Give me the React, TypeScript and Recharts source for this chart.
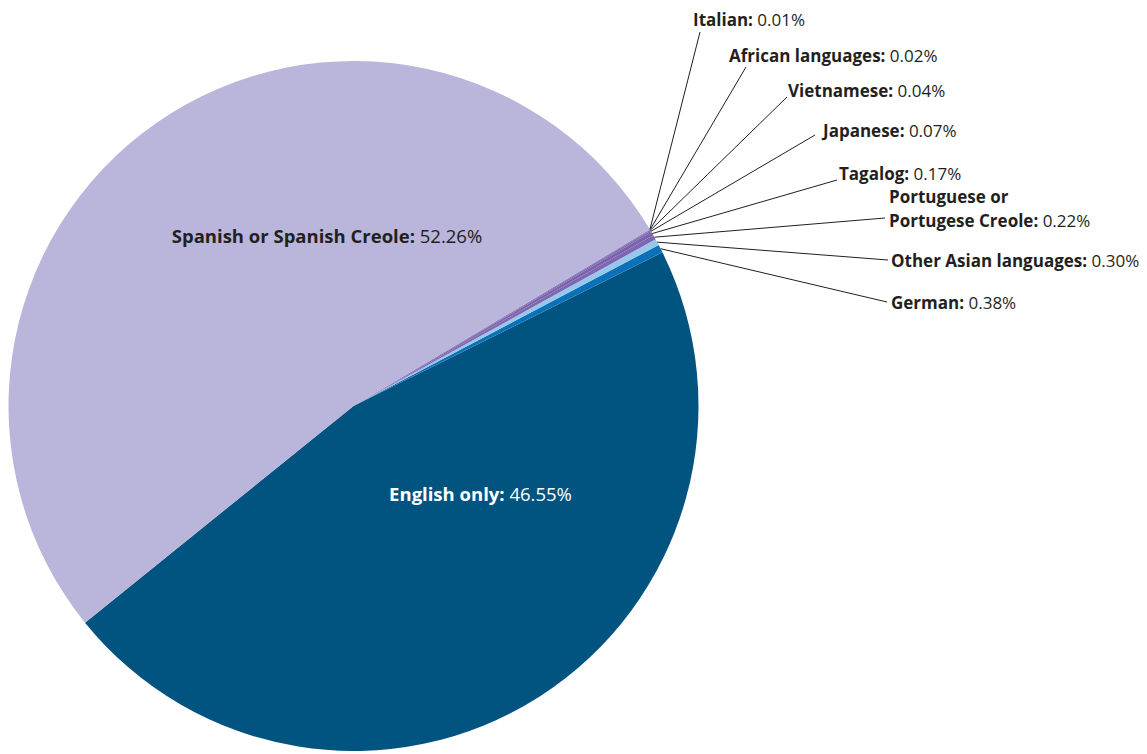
import React from "react";
import { PieChart, Pie, Cell } from "recharts";

const categories = [
  "English only",
  "German",
  "Other Asian languages",
  "Portuguese or Portugese Creole",
  "Tagalog",
  "Japanese",
  "Vietnamese",
  "African languages",
  "Italian",
  "Spanish or Spanish Creole",
];
const shares = [46.55, 0.38, 0.3, 0.22, 0.17, 0.07, 0.04, 0.02, 0.01, 52.26];
const valueLabels = ["46.55%", "0.38%", "0.30%", "0.22%", "0.17%", "0.07%", "0.04%", "0.02%", "0.01%", "52.26%"];
const labelLines: string[][] = [
  ["English only:"],
  ["German:"],
  ["Other Asian languages:"],
  ["Portuguese or", "Portugese Creole:"],
  ["Tagalog:"],
  ["Japanese:"],
  ["Vietnamese:"],
  ["African languages:"],
  ["Italian:"],
  ["Spanish or Spanish Creole:"],
];
const colors = ["#00547f", "#0b72ba", "#97c8ec", "#7e66b0", "#7a62ad", "#7a62ad", "#7a62ad", "#7a62ad", "#7a62ad", "#b9b5db"];

const data = categories.map((name, i) => ({ name, value: shares[i] }));

// Label layout (offsets from pie centre, px). "inside" labels have no leader line.
type Lay = { tx: number; ty: number; lx?: number; ly?: number; inside?: boolean; anchor?: "start" | "middle" };
const layout: Lay[] = [
  { tx: 127, ty: 87, inside: true, anchor: "middle" },
  { tx: 537.5, ty: -104, lx: 533.5, ly: -104 },
  { tx: 537.5, ty: -146, lx: 534.5, ly: -146 },
  { tx: 535.5, ty: -198, lx: 531.5, ly: -188 },
  { tx: 485.5, ty: -233, lx: 483.5, ly: -226 },
  { tx: 469.5, ty: -276, lx: 461.5, ly: -271 },
  { tx: 434.5, ty: -316, lx: 433.5, ly: -309 },
  { tx: 375.5, ty: -351, lx: 392.5, ly: -339 },
  { tx: 339.5, ty: -387, lx: 346.5, ly: -374 },
  { tx: -26.5, ty: -171, inside: true, anchor: "middle" },
];

const FONT = "'Open Sans', sans-serif";
const RAD = Math.PI / 180;

const renderLabel = (props: any) => {
  const { cx, cy, midAngle, outerRadius, index } = props;
  const lay = layout[index];
  const lines = labelLines[index];
  const fill = index === 0 ? "#ffffff" : "#231f20";
  const tx = cx + lay.tx;
  const ty = cy + lay.ty;
  const lineH = 23.5;
  const fs = lay.inside ? 18.5 : 17;
  const y0 = ty - ((lines.length - 1) * lineH) / 2;
  const texts = lines.map((ln, i) => (
    <text
      key={i}
      x={tx}
      y={y0 + i * lineH}
      textAnchor={lay.anchor || "start"}
      dominantBaseline="central"
      fontFamily={FONT}
      fontSize={fs}
      fill={fill}
    >
      <tspan fontWeight={700}>{ln}</tspan>
      {i === lines.length - 1 ? <tspan fontWeight={400}>{" " + valueLabels[index]}</tspan> : null}
    </text>
  ));
  if (lay.inside) return <g key={`l${index}`}>{texts}</g>;
  const sx = cx + outerRadius * Math.cos(-midAngle * RAD);
  const sy = cy + outerRadius * Math.sin(-midAngle * RAD);
  return (
    <g key={`l${index}`}>
      <line x1={sx} y1={sy} x2={cx + (lay.lx as number)} y2={cy + (lay.ly as number)} stroke="#231f20" strokeWidth={1} />
      {texts}
    </g>
  );
};

export default function App() {
  return (
    <PieChart width={1139} height={746} margin={{ top: 0, right: 0, bottom: 0, left: 0 }}>
      <Pie
        data={data}
        dataKey="value"
        nameKey="name"
        cx={345.5}
        cy={398}
        outerRadius={345}
        startAngle={218.9}
        endAngle={578.9}
        stroke="none"
        label={renderLabel}
        labelLine={false}
        isAnimationActive={false}
      >
        {data.map((d, i) => (
          <Cell key={d.name} fill={colors[i]} stroke="none" />
        ))}
      </Pie>
    </PieChart>
  );
}
